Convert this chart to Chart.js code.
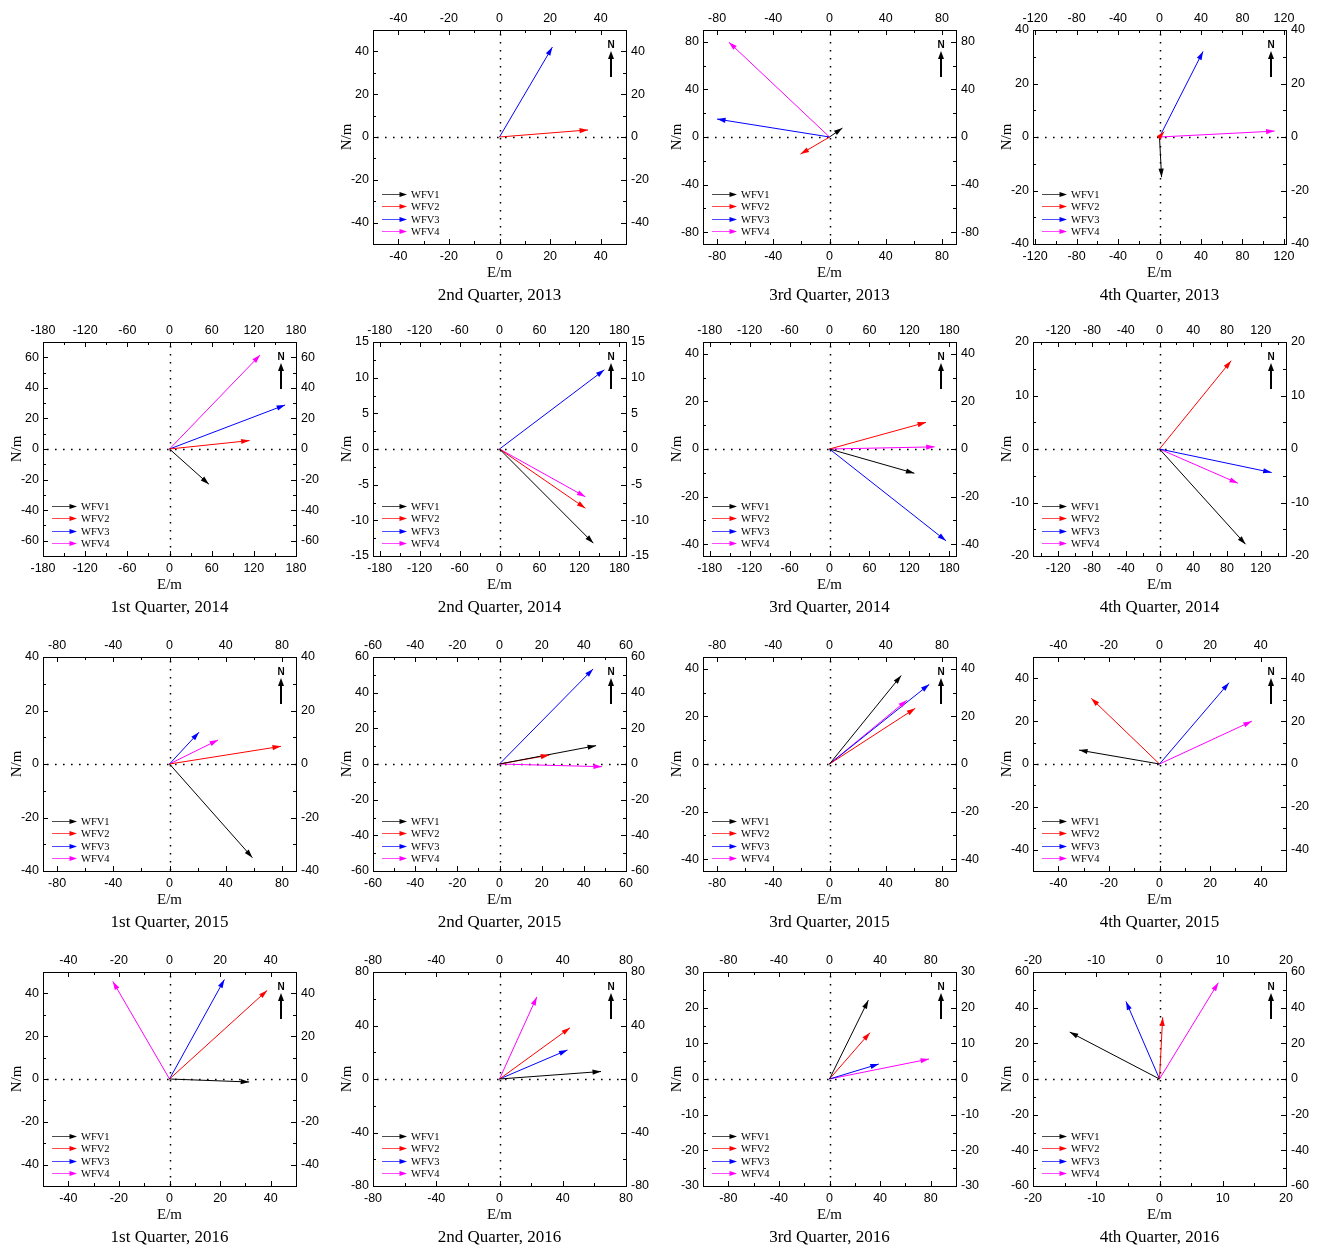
<!DOCTYPE html>
<html><head><meta charset="utf-8">
<script src="https://cdn.jsdelivr.net/npm/chart.js@4.4.1/dist/chart.umd.min.js"></script>
<style>
html,body{margin:0;padding:0;background:#fff;}
body{width:1320px;height:1248px;overflow:hidden;position:relative;}
canvas{position:absolute;}
</style></head><body>
<script>
const captions = ['2nd Quarter, 2013','3rd Quarter, 2013','4th Quarter, 2013',
  '1st Quarter, 2014','2nd Quarter, 2014','3rd Quarter, 2014','4th Quarter, 2014',
  '1st Quarter, 2015','2nd Quarter, 2015','3rd Quarter, 2015','4th Quarter, 2015',
  '1st Quarter, 2016','2nd Quarter, 2016','3rd Quarter, 2016','4th Quarter, 2016'];
const seriesNames = ['WFV1','WFV2','WFV3','WFV4'];
const seriesColors = ['#000000','#FF0000','#0000FF','#FF00FF'];
// arrow tips (E/m, N/m) per panel
const wfv1E = [null, 9.2, 2, 56, 141, 127.5, 102, 59, 45.8, 51, -31.8, 31.5, 64.2, 30.7, -14.2];
const wfv1N = [null, 7.5, -15, -23, -13.2, -10.2, -17.8, -35, 10.3, 37.2, 6.5, -1.4, 5.6, 22.1, 26.3];
const wfv2E = [35, -20.6, 4.5, 114, 129, 145, 85, 79.3, 23.6, 61, -27, 38.6, 44.6, 32, 0.5];
const wfv2N = [3.3, -14.3, 2, 5.5, -8.3, 11.2, 16.5, 6.6, 5, 23.4, 30.7, 41.4, 38.3, 13, 34.6];
const wfv3E = [20.9, -80, 42, 164.5, 157.5, 175, 133, 21, 44.4, 71, 27.5, 21.7, 43, 39, -5.3];
const wfv3N = [42, 15.1, 32, 28.8, 11.1, -38.6, -4.4, 11.9, 53.3, 33.5, 38, 46.5, 21.7, 4.2, 43.5];
const wfv4E = [null, -71.6, 111, 129, 129, 158, 93, 34.6, 48.6, 55, 36.5, -22.4, 23.6, 78.7, 9.3];
const wfv4N = [null, 79.8, 2.2, 61.5, -6.7, 0.9, -6.4, 9, -1.5, 26.8, 20, 45.6, 61.4, 5.6, 54];
// axis limits and tick steps
const xLimit = [50, 90, 122, 180, 190, 190, 150, 90, 60, 90, 50, 50, 80, 100, 20];
const xStep  = [20, 40, 40, 60, 60, 60, 40, 40, 20, 40, 20, 20, 40, 40, 10];
const yLimit = [50, 90, 40, 70, 15, 45, 20, 40, 60, 45, 50, 50, 80, 30, 60];
const yStep  = [20, 40, 20, 20, 5, 20, 10, 20, 20, 20, 20, 20, 40, 10, 20];

const allE = [wfv1E, wfv2E, wfv3E, wfv4E];
const allN = [wfv1N, wfv2N, wfv3N, wfv4N];

function majorTicks(lim, step){
  const n = Math.floor(lim/step + 1e-9), a = [];
  for (let k = -n; k <= n; k++) a.push(k*step);
  return a;
}
function minorTicks(lim, step){
  const h = step/2, n = Math.floor(lim/h + 1e-9), a = [];
  for (let k = -n; k <= n; k++) if (Math.abs(k) % 2 === 1) a.push(k*h);
  return a;
}

const SANS = 'Liberation Sans';
const SERIF = 'Liberation Serif';

function arrowHead(ctx, x1, y1, x2, y2, len, hw, color){
  const ang = Math.atan2(y2 - y1, x2 - x1);
  const c = Math.cos(ang), s = Math.sin(ang);
  const bx = x2 - c*len, by = y2 - s*len;
  ctx.fillStyle = color;
  ctx.beginPath();
  ctx.moveTo(x2, y2);
  ctx.lineTo(bx - s*hw, by + c*hw);
  ctx.lineTo(bx + s*hw, by - c*hw);
  ctx.closePath();
  ctx.fill();
}

const decor = {
  id: 'decor',
  beforeDatasetsDraw(chart, args, opts){
    const {ctx, chartArea: a, scales} = chart;
    ctx.save();
    ctx.strokeStyle = '#000';
    ctx.lineWidth = 1.5;
    ctx.setLineDash([1.6, 6.4]);
    const x0 = Math.round(scales.x.getPixelForValue(0)) + 0.5;
    const y0 = Math.round(scales.y.getPixelForValue(0)) + 0.5;
    ctx.beginPath(); ctx.moveTo(x0, a.top + 4); ctx.lineTo(x0, a.bottom); ctx.stroke();
    ctx.beginPath(); ctx.moveTo(a.left + 4, y0); ctx.lineTo(a.right, y0); ctx.stroke();
    ctx.restore();
  },
  afterDatasetsDraw(chart, args, opts){
    const ctx = chart.ctx;
    ctx.save();
    chart.data.datasets.forEach((ds, i) => {
      const meta = chart.getDatasetMeta(i);
      if (meta.data.length < 2) return;
      const p0 = meta.data[0], p1 = meta.data[1];
      arrowHead(ctx, p0.x, p0.y, p1.x, p1.y, 8.5, 2.6, ds.borderColor);
    });
    ctx.restore();
  },
  afterDraw(chart, args, opts){
    const {ctx, chartArea: a, scales} = chart;
    ctx.save();
    ctx.strokeStyle = '#000';
    ctx.lineWidth = 1;
    const drawX = (vals, len) => {
      vals.forEach(v => {
        const px = Math.round(scales.x.getPixelForValue(v)) + 0.5;
        if (px < a.left + 1 || px > a.right - 1) return;
        ctx.beginPath(); ctx.moveTo(px, a.bottom); ctx.lineTo(px, a.bottom - len); ctx.stroke();
        ctx.beginPath(); ctx.moveTo(px, a.top); ctx.lineTo(px, a.top + len); ctx.stroke();
      });
    };
    const drawY = (vals, len) => {
      vals.forEach(v => {
        const py = Math.round(scales.y.getPixelForValue(v)) + 0.5;
        if (py < a.top + 1 || py > a.bottom - 1) return;
        ctx.beginPath(); ctx.moveTo(a.left, py); ctx.lineTo(a.left + len, py); ctx.stroke();
        ctx.beginPath(); ctx.moveTo(a.right, py); ctx.lineTo(a.right - len, py); ctx.stroke();
      });
    };
    drawX(majorTicks(opts.xLim, opts.xStep), 5);
    drawX(minorTicks(opts.xLim, opts.xStep), 3);
    drawY(majorTicks(opts.yLim, opts.yStep), 5);
    drawY(minorTicks(opts.yLim, opts.yStep), 3);

    // legend
    ctx.font = '10.5px "' + SERIF + '"';
    ctx.textBaseline = 'middle';
    ctx.textAlign = 'left';
    seriesNames.forEach((name, k) => {
      const yy = Math.round(a.bottom - 13 - (3 - k)*12.3) + 0.5;
      const lx = a.left + 9;
      ctx.strokeStyle = seriesColors[k];
      ctx.globalAlpha = 0.7;
      ctx.lineWidth = 1;
      ctx.beginPath(); ctx.moveTo(lx, yy); ctx.lineTo(lx + 20, yy); ctx.stroke();
      ctx.globalAlpha = 1;
      arrowHead(ctx, lx, yy, lx + 25, yy, 7.5, 2.5, seriesColors[k]);
      ctx.fillStyle = '#000';
      ctx.fillText(name, lx + 29, yy + 0.5);
    });

    // north arrow
    const nx = a.right - 15;
    ctx.fillStyle = '#000';
    ctx.font = 'bold 10px "' + SANS + '"';
    ctx.textAlign = 'center';
    ctx.fillText('N', nx, a.top + 15);
    ctx.strokeStyle = '#000';
    ctx.lineWidth = 2;
    ctx.beginPath(); ctx.moveTo(nx, a.top + 47); ctx.lineTo(nx, a.top + 26); ctx.stroke();
    arrowHead(ctx, nx, a.top + 47, nx, a.top + 21, 8, 3, '#000');
    ctx.restore();
  }
};

function makeScale(pos, lim, step, extra){
  const vals = majorTicks(lim, step);
  const s = {
    type: 'linear',
    position: pos,
    min: -lim, max: lim,
    afterBuildTicks: sc => { sc.ticks = vals.map(v => ({value: v})); },
    grid: {display: false, drawTicks: false},
    border: {display: true, color: '#000', width: 1},
    ticks: {
      autoSkip: false, maxRotation: 0, minRotation: 0, color: '#000',
      font: {family: SANS, size: 12.5},
      padding: pos === 'top' ? 4 : (pos === 'bottom' ? 5 : (pos === 'left' ? 4 : 5)),
      callback: v => String(v)
    },
    title: {display: false}
  };
  Object.assign(s, extra || {});
  return s;
}

for (let i = 0; i < captions.length; i++) {
  const cell = i + 1;
  const row = Math.floor(cell / 4), col = cell % 4;
  const rowTops = [0, 312, 627, 942];
  const cv = document.createElement('canvas');
  cv.width = 339; cv.height = 306;
  cv.style.left = (col * 330) + 'px';
  cv.style.top = rowTops[row] + 'px';
  document.body.appendChild(cv);

  const datasets = seriesNames.map((name, k) => {
    const e = allE[k][i], n = allN[k][i];
    return {
      label: name,
      data: (e === null || n === null) ? [] : [{x: 0, y: 0}, {x: e, y: n}],
      showLine: true,
      borderColor: seriesColors[k],
      backgroundColor: seriesColors[k],
      borderWidth: 1,
      pointRadius: 0,
      fill: false
    };
  });

  const xs = makeScale('bottom', xLimit[i], xStep[i], {
    afterFit: sc => { sc.height = 41; },
    title: {display: true, text: 'E/m', color: '#000', font: {family: SERIF, size: 15, lineHeight: 1.2}, padding: {top: 0, bottom: 3}}
  });
  const xs2 = makeScale('top', xLimit[i], xStep[i], {afterFit: sc => { sc.height = 30; }});
  const ys = makeScale('left', yLimit[i], yStep[i], {
    afterFit: sc => { sc.width = 43; },
    title: {display: true, text: 'N/m', color: '#000', font: {family: SERIF, size: 15, lineHeight: 1.2}, padding: {top: 8, bottom: 0}}
  });
  const ys2 = makeScale('right', yLimit[i], yStep[i], {afterFit: sc => { sc.width = 43; }});

  new Chart(cv, {
    type: 'scatter',
    data: {datasets},
    options: {
      responsive: false,
      animation: false,
      events: [],
      layout: {padding: 0},
      plugins: {
        legend: {display: false},
        tooltip: {enabled: false},
        title: {display: true, text: captions[i], position: 'bottom', color: '#000',
          font: {family: SERIF, size: 17, weight: 'normal', lineHeight: '21px'}, padding: 0},
        decor: {xLim: xLimit[i], xStep: xStep[i], yLim: yLimit[i], yStep: yStep[i]}
      },
      scales: {x: xs, x2: xs2, y: ys, y2: ys2}
    },
    plugins: [decor]
  });
}
</script>
</body></html>
